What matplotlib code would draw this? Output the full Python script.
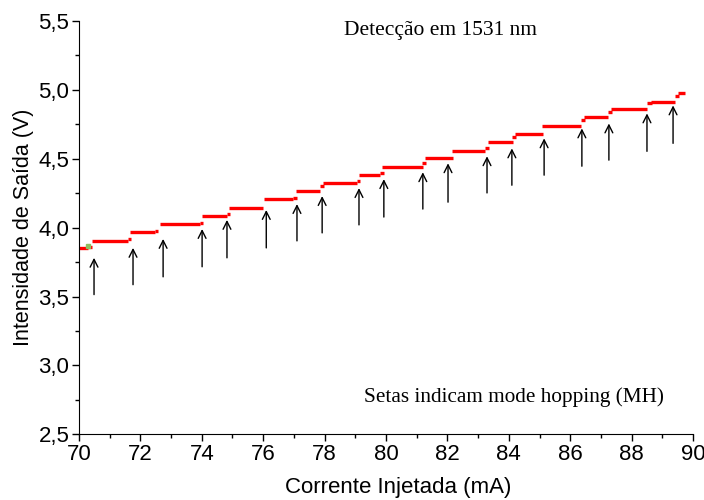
import numpy as np
import matplotlib
matplotlib.use('Agg')
import matplotlib.pyplot as plt
from matplotlib.ticker import MultipleLocator

# Steps of the output signal: start current, end current (mA), level (V)
seg_start = [70.00, 70.29, 70.42, 71.60, 71.66, 72.48, 72.64, 73.94, 74.01, 74.82,
             74.89, 76.03, 76.97, 77.07, 77.85, 77.95, 79.06, 79.12, 79.80, 79.87,
             81.17, 81.27, 82.15, 83.22, 83.32, 84.10, 84.20, 85.08, 86.35, 86.45,
             87.23, 87.33, 88.50, 88.63, 89.41, 89.51]
seg_end = [70.29, 70.42, 71.60, 71.69, 72.48, 72.57, 73.94, 74.04, 74.82, 74.92,
           76.00, 76.97, 77.10, 77.85, 77.98, 79.06, 79.15, 79.80, 79.93, 81.21,
           81.30, 82.18, 83.22, 83.36, 84.14, 84.23, 85.11, 86.35, 86.48, 87.23,
           87.36, 88.50, 88.66, 89.41, 89.54, 89.74]
seg_v = [3.850, 3.861, 3.904, 3.918, 3.967, 3.976, 4.027, 4.034, 4.087, 4.099,
         4.145, 4.205, 4.215, 4.263, 4.301, 4.325, 4.340, 4.381, 4.395, 4.441,
         4.470, 4.504, 4.559, 4.576, 4.619, 4.657, 4.682, 4.740, 4.785, 4.800,
         4.836, 4.860, 4.908, 4.915, 4.959, 4.975]

# Mode hopping arrows: current (mA), arrow tail and tip (V)
mh_current = [70.49, 71.76, 72.74, 74.01, 74.82, 76.10, 77.10, 77.92, 79.12, 79.93,
              81.20, 82.02, 83.29, 84.10, 85.15, 86.38, 87.26, 88.50, 89.35]
mh_tail = [3.514, 3.586, 3.643, 3.716, 3.781, 3.853, 3.904, 3.962, 4.020, 4.077,
           4.135, 4.185, 4.252, 4.308, 4.381, 4.446, 4.490, 4.554, 4.612]
mh_tip = [3.781, 3.853, 3.918, 3.990, 4.056, 4.128, 4.171, 4.229, 4.287, 4.352,
          4.402, 4.467, 4.518, 4.575, 4.648, 4.720, 4.756, 4.829, 4.887]

xticks = [70, 72, 74, 76, 78, 80, 82, 84, 86, 88, 90]
yticks = [2.5, 3.0, 3.5, 4.0, 4.5, 5.0, 5.5]
ytick_labels = ['2,5', '3,0', '3,5', '4,0', '4,5', '5,0', '5,5']

plt.rcParams['font.family'] = ['Liberation Sans', 'DejaVu Sans']

fig = plt.figure(figsize=(7.04, 5.0), dpi=100)
ax = fig.add_axes([0.1122, 0.1314, 0.8722, 0.8266])

ax.hlines(seg_v, seg_start, seg_end, colors='#ff0000', linewidth=2.4)
ax.plot([70.28], [3.87], 's', color='#8fbf5f', markersize=3)

for xi, y0, y1 in zip(mh_current, mh_tail, mh_tip):
    ax.annotate('', xy=(xi, y1), xytext=(xi, y0),
                arrowprops=dict(arrowstyle='->', color='black', lw=1.0,
                                shrinkA=0, shrinkB=0, mutation_scale=14))

ax.set_xlim(70, 90)
ax.set_ylim(2.5, 5.5)
ax.set_xticks(xticks)
ax.set_yticks(yticks)
ax.set_yticklabels(ytick_labels)
ax.xaxis.set_minor_locator(MultipleLocator(1))
ax.yaxis.set_minor_locator(MultipleLocator(0.25))
ax.tick_params(which='major', direction='out', length=5, width=1, labelsize=16, pad=2)
ax.tick_params(which='minor', direction='out', length=3, width=1)

for side in ['top', 'right']:
    ax.spines[side].set_visible(False)

ax.set_xlabel('Corrente Injetada (mA)', fontsize=16)
ax.xaxis.set_label_coords(0.52, -0.104)
ax.set_ylabel('Intensidade de Saída (V)', fontsize=15.5, labelpad=3)

ax.text(0.588, 0.976, 'Detecção em 1531 nm', transform=ax.transAxes,
        fontsize=15.5, family='Liberation Serif', ha='center', va='center')
ax.text(0.708, 0.09, 'Setas indicam mode hopping (MH)', transform=ax.transAxes,
        fontsize=15.3, family='Liberation Serif', ha='center', va='center')

fig.savefig('out.png', dpi=100)
